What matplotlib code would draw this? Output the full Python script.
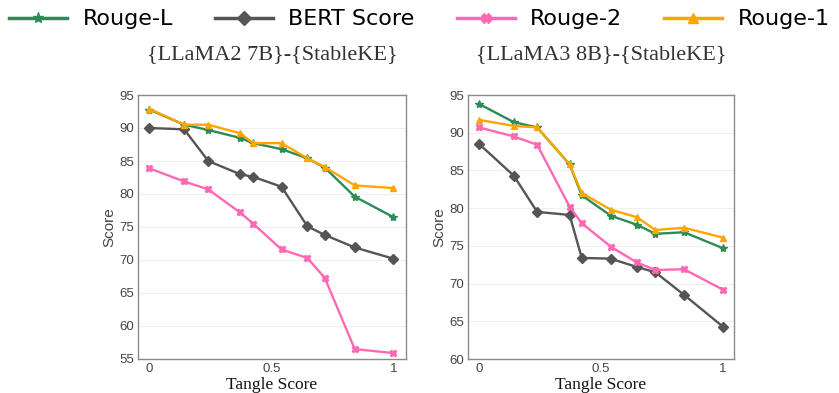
import matplotlib
matplotlib.use("Agg")
import matplotlib.pyplot as plt
from matplotlib.lines import Line2D

# Data
x_left = [0, 0.143, 0.242, 0.372, 0.426, 0.542, 0.648, 0.719, 0.842, 1.0]
left_rouge_l = [92.8, 90.5, 89.7, 88.5, 87.7, 86.8, 85.4, 84.0, 79.6, 76.5]
left_bert = [90.0, 89.8, 85.0, 83.0, 82.6, 81.1, 75.1, 73.8, 71.9, 70.2]
left_rouge_2 = [83.9, 81.9, 80.7, 77.2, 75.5, 71.6, 70.3, 67.3, 56.5, 55.9]
left_rouge_1 = [92.9, 90.5, 90.5, 89.2, 87.7, 87.7, 85.4, 84.1, 81.3, 80.9]

x_right = [0, 0.142, 0.238, 0.371, 0.421, 0.540, 0.647, 0.723, 0.841, 1.0]
right_rouge_l = [93.8, 91.4, 90.7, 85.8, 81.7, 79.0, 77.8, 76.6, 76.8, 74.7]
right_bert = [88.5, 84.3, 79.5, 79.1, 73.4, 73.3, 72.2, 71.5, 68.5, 64.3]
right_rouge_2 = [90.7, 89.5, 88.4, 80.2, 78.0, 74.9, 72.8, 71.8, 71.9, 69.2]
right_rouge_1 = [91.7, 90.9, 90.7, 85.8, 82.0, 79.8, 78.8, 77.1, 77.4, 76.1]

titles = ["{LLaMA2 7B}-{StableKE}", "{LLaMA3 8B}-{StableKE}"]
series_names = ["Rouge-L", "BERT Score", "Rouge-2", "Rouge-1"]
colors = ["#2e8b57", "#555555", "#ff69b4", "#ffa500"]
markers = ["*", "D", "X", "^"]

fig = plt.figure(figsize=(8.39, 3.93), dpi=100)
W, H = 839, 393

def add_ax(l, t, r, b):
    return fig.add_axes([l / W, 1 - b / H, (r - l) / W, (b - t) / H])

ax1 = add_ax(138, 95, 406, 359)
ax2 = add_ax(468, 95, 734, 359)

panels = [
    (ax1, x_left, [left_rouge_l, left_bert, left_rouge_2, left_rouge_1], (55, 95), (-0.046, 1.052), [55, 60, 65, 70, 75, 80, 85, 90, 95]),
    (ax2, x_right, [right_rouge_l, right_bert, right_rouge_2, right_rouge_1], (60, 95), (-0.046, 1.046), [60, 65, 70, 75, 80, 85, 90, 95]),
]

for i, (ax, xs, ys, ylim, xlim, yticks) in enumerate(panels):
    for name, y, c, m in zip(series_names, ys, colors, markers):
        ms = 6 if m == "*" else 5
        ax.plot(xs, y, color=c, marker=m, markersize=ms, linewidth=1.7, label=name)
    ax.set_ylim(*ylim)
    ax.set_xlim(*xlim)
    ax.set_yticks(yticks)
    ax.set_xticks([0, 0.5, 1])
    ax.set_xticklabels(["0", "0.5", "1"])
    ax.grid(axis="y", color="#f0f0f0", linewidth=0.8)
    ax.set_axisbelow(True)
    for s in ax.spines.values():
        s.set_color("#8a8a8a")
        s.set_linewidth(1.0)
    ax.tick_params(length=0, labelsize=9.5, labelcolor="#444444", pad=3)
    for lab in ax.get_xticklabels() + ax.get_yticklabels():
        lab.set_family("Liberation Sans")
    ax.set_ylabel("Score", family="Liberation Sans", fontsize=11, color="#444444", labelpad=2)
    ax.set_xlabel("Tangle Score", family="Liberation Serif", fontsize=12.5, color="#111111", labelpad=1)
    ax.set_title(titles[i], family="Liberation Serif", fontsize=16, color="#333333", pad=26)

handles = [Line2D([0], [0], color=c, marker=m, markersize=8 if m == "*" else 7, linewidth=2.5)
           for c, m in zip(colors, markers)]
fig.legend(handles, series_names, loc="upper center", bbox_to_anchor=(0.5, 1.027), ncol=4,
           frameon=False, fontsize=16, handlelength=2.6, columnspacing=1.9, handletextpad=0.7)

fig.savefig("out.png", dpi=100, facecolor="white")
